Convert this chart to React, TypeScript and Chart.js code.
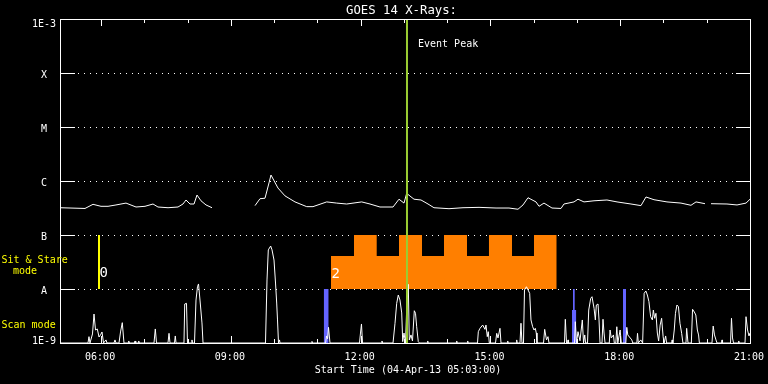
import React, { useEffect, useRef } from "react";
import { Chart, registerables } from "chart.js";

Chart.register(...registerables);

// ---- axes ----
const startHour = 5.05; // 05:03
const endHour = 21;
const xTickHours = [6, 9, 12, 15, 18, 21];
const xTickLabels = ["06:00", "09:00", "12:00", "15:00", "18:00", "21:00"];
const xMinorHours = [6, 7, 8, 9, 10, 11, 12, 13, 14, 15, 16, 17, 18, 19, 20];
const yTickValues = [1e-9, 1e-8, 1e-7, 1e-6, 1e-5, 1e-4, 1e-3];
const yTickLabels = ["1E-9", "A", "B", "C", "M", "X", "1E-3"];

// ---- GOES long channel flux (hours, W/m^2), null = data gap ----
const goesTimes = [
  5.05, 5.628, 5.813, 5.998, 6.16, 6.344, 6.576, 6.807, 7.015, 7.2, 7.315, 7.547,
  7.778, 7.893, 7.963, 8.055, 8.148, 8.217, 8.309, 8.425, 8.564, 9.0, 9.558, 9.673,
  9.789, 9.881, 9.927, 10.089, 10.251, 10.482, 10.753, 10.898, 11.215, 11.446,
  11.677, 12.024, 12.216, 12.447, 12.748, 12.886, 13.002, 13.064, 13.233, 13.395,
  13.557, 13.695, 14.042, 14.366, 14.736, 15.129, 15.429, 15.637, 15.753, 15.868,
  16.053, 16.123, 16.238, 16.423, 16.631, 16.7, 16.932, 17.024, 17.163, 17.394,
  17.694, 17.926, 18.249, 18.48, 18.596, 18.781, 19.081, 19.405, 19.636, 19.752,
  19.96, 20.03, 20.099, 20.468, 20.7, 20.908, 21.0,
];
const goesFlux = [
  3.2e-7, 3.1e-7, 3.7e-7, 3.4e-7, 3.4e-7, 3.6e-7, 3.9e-7, 3.3e-7, 3.4e-7, 3.75e-7, 3.3e-7, 3.2e-7,
  3.3e-7, 3.75e-7, 4.45e-7, 3.75e-7, 3.75e-7, 5.5e-7, 4.3e-7, 3.6e-7, 3.2e-7, null, 3.5e-7, 4.7e-7,
  4.8e-7, 9.2e-7, 1.29e-6, 7.4e-7, 5.3e-7, 4.1e-7, 3.35e-7, 3.35e-7, 4.1e-7, 3.9e-7,
  3.75e-7, 4.1e-7, 3.75e-7, 3.3e-7, 3.3e-7, 4.6e-7, 3.9e-7, 5.9e-7, 4.6e-7, 4.45e-7,
  3.75e-7, 3.2e-7, 3.07e-7, 3.2e-7, 3.25e-7, 3.16e-7, 3.16e-7, 3.0e-7, 3.6e-7, 4.9e-7,
  4.1e-7, 3.4e-7, 3.9e-7, 3.16e-7, 3.1e-7, 3.75e-7, 4.1e-7, 4.6e-7, 4.1e-7, 4.3e-7,
  4.45e-7, 4.1e-7, 3.75e-7, 3.5e-7, 5.06e-7, 4.5e-7, 4.1e-7, 3.9e-7, 3.55e-7, 4.1e-7,
  3.8e-7, null, 3.8e-7, 3.75e-7, 3.6e-7, 3.9e-7, 4.6e-7,
];

// ---- scan-mode trace (hours, value) ----
const scanTimes = [
  5.05, 5.697, 5.72, 5.743, 5.801, 5.836, 5.871, 5.912, 5.952, 5.986, 6.021, 6.056, 6.113, 6.136,
  6.298, 6.321, 6.344, 6.414, 6.449, 6.49, 6.529, 6.622, 6.638, 6.656, 6.77, 6.784, 6.8, 6.855,
  6.869, 6.885, 7.223, 7.253, 7.281, 7.546, 7.57, 7.593, 7.697, 7.715, 7.732, 7.916, 7.933, 7.974,
  7.997, 8.09, 8.101, 8.112, 8.159, 8.194, 8.228, 8.252, 8.286, 8.332, 8.356, 9.8, 9.835, 9.865,
  9.92, 9.951, 9.997, 10.032, 10.059, 10.078, 10.101, 10.124, 10.136, 10.863, 10.875, 10.887,
  11.19, 11.21, 11.235, 11.257, 11.291, 11.973, 11.996, 12.019, 12.043, 12.481, 12.493, 12.505,
  12.748, 12.794, 12.833, 12.87, 12.909, 12.949, 12.972, 13.002, 13.037, 13.071, 13.101, 13.124,
  13.163, 13.198, 13.24, 13.268, 13.295, 13.332, 13.36, 13.538, 13.55, 13.562, 14.208, 14.22,
  14.232, 14.462, 14.474, 14.486, 14.701, 14.72, 14.759, 14.821, 14.874, 14.897, 14.927, 14.95,
  14.974, 15.117, 15.145, 15.175, 15.221, 15.244, 15.387, 15.399, 15.411, 15.595, 15.607, 15.619,
  15.683, 15.706, 15.729, 15.764, 15.787, 15.833, 15.907, 15.937, 15.976, 16.007, 16.037, 16.06,
  16.076, 16.227, 16.254, 16.296, 16.33, 16.354, 16.712, 16.731, 16.759, 16.781, 16.793, 16.805,
  16.944, 16.962, 16.99, 17.024, 17.07, 17.124, 17.152, 17.18, 17.2, 17.244, 17.272, 17.318,
  17.348, 17.395, 17.425, 17.448, 17.487, 17.51, 17.533, 17.579, 17.602, 17.626, 17.649, 17.747,
  17.765, 17.793, 17.844, 17.863, 17.898, 17.921, 17.944, 17.998, 18.025, 18.129, 18.152, 18.175,
  18.268, 18.291, 18.384, 18.4, 18.419, 18.476, 18.518, 18.553, 18.592, 18.627, 18.664, 18.703,
  18.743, 18.766, 18.796, 18.826, 18.858, 18.888, 18.923, 18.957, 18.992, 19.015, 19.05, 19.073,
  19.188, 19.2, 19.212, 19.219, 19.249, 19.277, 19.311, 19.346, 19.381, 19.42, 19.45, 19.52,
  19.536, 19.567, 19.644, 19.672, 19.713, 19.748, 19.783, 19.811, 19.83, 20.121, 20.149, 20.179,
  20.214, 20.237, 20.341, 20.353, 20.365, 20.55, 20.572, 20.596, 20.619, 20.727, 20.739, 20.751,
  20.885, 20.908, 20.943, 20.977, 21.0,
];
const scanValues = [
  1e-9, 1e-9, 1.31e-9, 1e-9, 1.47e-9, 3.44e-9, 1.74e-9, 1.82e-9, 1.29e-9, 1.41e-9, 1.6e-9, 1e-9, 1.14e-9, 1e-9,
  1e-9, 1.14e-9, 1e-9, 1e-9, 1.6e-9, 2.38e-9, 1e-9, 1e-9, 1.09e-9, 1e-9, 1e-9, 1.09e-9, 1e-9, 1e-9,
  1.09e-9, 1e-9, 1e-9, 1.82e-9, 1e-9, 1e-9, 1.51e-9, 1e-9, 1e-9, 1.35e-9, 1e-9, 1e-9, 5.27e-9, 5.43e-9,
  1e-9, 1e-9, 1.14e-9, 1e-9, 1e-9, 6.25e-9, 1.1e-8, 1.24e-8, 6.25e-9, 2.35e-9, 1e-9, 1e-9, 1.47e-8, 5.3e-8,
  6.25e-8, 5.3e-8, 3.44e-8, 1.29e-8, 5.5e-9, 2.67e-9, 1e-9, 1.14e-9, 1e-9, 1e-9, 1.07e-9, 1e-9,
  1e-9, 1.35e-9, 1.2e-9, 1.95e-9, 1e-9, 1e-9, 1.53e-9, 2.25e-9, 1e-9, 1e-9, 1.09e-9, 1e-9,
  1e-9, 2.32e-9, 5.43e-9, 7.74e-9, 6.25e-9, 3.6e-9, 1.06e-9, 1.53e-9, 1e-9, 6.25e-9, 1.22e-8, 1.14e-9,
  1.41e-9, 1.09e-9, 3.96e-9, 3.55e-9, 2.0e-9, 1.06e-9, 1e-9, 1e-9, 1.09e-9, 1e-9, 1e-9, 1.09e-9,
  1e-9, 1e-9, 1.09e-9, 1e-9, 1e-9, 1.62e-9, 1.87e-9, 2.15e-9, 1.79e-9, 2.15e-9, 1.31e-9, 1.62e-9,
  1e-9, 1e-9, 1.51e-9, 1.24e-9, 1.87e-9, 1e-9, 1e-9, 1.09e-9, 1e-9, 1e-9, 1.14e-9, 1e-9,
  1e-9, 2.32e-9, 1e-9, 1e-9, 9.58e-9, 1.1e-8, 8.32e-9, 2.67e-9, 2.0e-9, 1.74e-9, 1.87e-9, 1.53e-9,
  1e-9, 1e-9, 1.79e-9, 1.14e-9, 1.31e-9, 1e-9, 1e-9, 2.75e-9, 1e-9, 1e-9, 1.14e-9, 1e-9,
  1e-9, 2.48e-9, 1e-9, 1.62e-9, 1.1e-9, 2.67e-9, 1e-9, 1.41e-9, 1e-9, 1e-9, 4.08e-9, 6.73e-9,
  7.2e-9, 4.39e-9, 2.67e-9, 5.05e-9, 5.27e-9, 2.67e-9, 1e-9, 1e-9, 2.75e-9, 1.53e-9, 1e-9, 1e-9,
  1.74e-9, 1.24e-9, 1.41e-9, 1e-9, 1e-9, 2.0e-9, 1e-9, 1.74e-9, 1e-9, 1e-9, 1.95e-9, 1.41e-9,
  1.14e-9, 1e-9, 1e-9, 1.51e-9, 1e-9, 1.14e-9, 1e-9, 8.32e-9, 9.19e-9, 7.74e-9, 5.82e-9, 3.07e-9,
  2.67e-9, 4.08e-9, 2.87e-9, 3.55e-9, 1.53e-9, 1.09e-9, 2.15e-9, 2.87e-9, 1.31e-9, 1e-9, 1.35e-9, 1e-9,
  1e-9, 1.14e-9, 1e-9, 1e-9, 1.74e-9, 3.55e-9, 5.05e-9, 4.7e-9, 2.32e-9, 1.51e-9, 1e-9, 1e-9,
  1.87e-9, 1e-9, 1e-9, 4.21e-9, 3.75e-9, 3.3e-9, 1.74e-9, 1.41e-9, 1e-9, 1e-9, 2.06e-9, 1.41e-9,
  1.14e-9, 1e-9, 1e-9, 1.14e-9, 1e-9, 1e-9, 2.87e-9, 1.24e-9, 1e-9, 1e-9, 1.09e-9, 1e-9,
  1e-9, 3.07e-9, 1.74e-9, 1.35e-9, 1.53e-9,
];

// ---- Sit & Stare block (step edges in hours, level from each edge on) ----
const sitStareEdges = [11.314, 11.846, 12.371, 12.886, 13.418, 13.926, 14.458, 14.966, 15.498, 16.007, 16.532];
const sitStareLevels = [4.08e-8, 1e-7, 4.08e-8, 1e-7, 4.08e-8, 1e-7, 4.08e-8, 1e-7, 4.08e-8, 1e-7, 1e-7];
const sitStareBase = 1e-8;
const sitStareLabel = "2";

// ---- Scan-mode bars ----
const scanBar1Times = [11.146, 11.261];
const scanBar1Levels = [1e-8, 1e-8];
const scanBar2Times = [16.885, 16.908, 16.948, 16.985];
const scanBar2Levels = [4.08e-9, 1e-8, 4.08e-9, 4.08e-9];
const scanBar3Times = [18.064, 18.134];
const scanBar3Levels = [1e-8, 1e-8];
const scanBase = 1e-9;

// ---- markers ----
const marker0Hour = 5.952;
const marker0Range = [1e-8, 1e-7];
const marker0Label = "0";
const eventPeakHour = 13.071;
const eventPeakRange = [1e-9, 1e-3];

const TITLE = "GOES 14 X-Rays:";
const XTITLE = "Start Time (04-Apr-13 05:03:00)";
const MONO = "'DejaVu Sans Mono', monospace";

const pts = (xs: number[], ys: (number | null)[]) => xs.map((x, i) => ({ x, y: ys[i] }));

const framePlugin = {
  id: "goesFrame",
  beforeDatasetsDraw(chart: any) {
    const { ctx, chartArea: a, scales } = chart;
    const xs = scales.x;
    const ys = scales.y;
    ctx.save();
    ctx.strokeStyle = "#ffffff";
    ctx.lineWidth = 1;
    for (let i = 1; i < yTickValues.length - 1; i++) {
      const py = Math.round(ys.getPixelForValue(yTickValues[i])) + 0.5;
      ctx.setLineDash([]);
      ctx.beginPath();
      ctx.moveTo(a.left, py);
      ctx.lineTo(a.left + 15, py);
      ctx.moveTo(a.right - 14, py);
      ctx.lineTo(a.right, py);
      ctx.stroke();
      ctx.setLineDash([1, 5]);
      ctx.beginPath();
      ctx.moveTo(a.left + 18, py);
      ctx.lineTo(a.right - 14, py);
      ctx.stroke();
    }
    ctx.setLineDash([]);
    ctx.beginPath();
    for (const h of xMinorHours) {
      const px = Math.round(xs.getPixelForValue(h)) + 0.5;
      const len = h % 3 === 0 ? 7 : 4;
      ctx.moveTo(px, a.top);
      ctx.lineTo(px, a.top + len);
      ctx.moveTo(px, a.bottom);
      ctx.lineTo(px, a.bottom - len);
    }
    ctx.stroke();
    ctx.restore();
  },
  afterDatasetsDraw(chart: any) {
    const { ctx, chartArea: a } = chart;
    ctx.save();
    ctx.strokeStyle = "#ffffff";
    ctx.lineWidth = 1;
    ctx.strokeRect(a.left + 0.5, a.top + 0.5, a.right - a.left, a.bottom - a.top);
    ctx.restore();
  },
  afterDraw(chart: any) {
    const { ctx, chartArea: a, scales } = chart;
    const xs = scales.x;
    const ys = scales.y;
    ctx.save();
    ctx.fillStyle = "#ffffff";
    ctx.textBaseline = "alphabetic";
    // title
    ctx.font = `12.3px ${MONO}`;
    ctx.textAlign = "center";
    ctx.fillText(TITLE, 401.5, 14);
    // y labels
    ctx.font = `10px ${MONO}`;
    ctx.textAlign = "center";
    yTickValues.forEach((v, i) => {
      const py = ys.getPixelForValue(v);
      const base = Math.min(Math.max(py + 4.7, a.top + 7.7), a.bottom + 1);
      ctx.fillText(yTickLabels[i], a.left - 16, base);
    });
    // x labels
    xTickHours.forEach((h, i) => {
      ctx.fillText(xTickLabels[i], xs.getPixelForValue(h) - 1, a.bottom + 16.5);
    });
    ctx.fillText(XTITLE, 408, a.bottom + 30);
    // event peak
    ctx.textAlign = "left";
    ctx.fillText("Event Peak", xs.getPixelForValue(eventPeakHour) + 11, a.top + 27.7);
    // mode labels
    ctx.fillStyle = "#ffff00";
    ctx.fillText("Sit & Stare", 1.5, 263.3);
    ctx.fillText("mode", 13, 274.3);
    ctx.fillText("Scan mode", 1.5, 328.3);
    // block numbers
    ctx.fillStyle = "#ffffff";
    ctx.font = `14px ${MONO}`;
    const yA = ys.getPixelForValue(sitStareBase);
    ctx.fillText(marker0Label, xs.getPixelForValue(marker0Hour) + 0.5, yA - 11.7);
    ctx.fillText(sitStareLabel, xs.getPixelForValue(sitStareEdges[0]) + 0.5, yA - 11);
    ctx.restore();
  },
};

export default function App() {
  const ref = useRef<HTMLCanvasElement | null>(null);
  useEffect(() => {
    const canvas = ref.current;
    if (!canvas) return;
    const common = { pointRadius: 0, pointHoverRadius: 0, tension: 0, spanGaps: false };
    const chart = new Chart(canvas, {
      type: "line",
      data: {
        datasets: [
          {
            ...common,
            label: "scan bar 1",
            data: pts(scanBar1Times, scanBar1Levels),
            borderWidth: 0,
            borderColor: "rgba(0,0,0,0)",
            backgroundColor: "#6464ff",
            fill: { value: scanBase },
            order: 6,
          },
          {
            ...common,
            label: "scan bar 2",
            data: pts(scanBar2Times, scanBar2Levels),
            stepped: true,
            borderWidth: 0,
            borderColor: "rgba(0,0,0,0)",
            backgroundColor: "#6464ff",
            fill: { value: scanBase },
            order: 6,
          },
          {
            ...common,
            label: "scan bar 3",
            data: pts(scanBar3Times, scanBar3Levels),
            borderWidth: 0,
            borderColor: "rgba(0,0,0,0)",
            backgroundColor: "#6464ff",
            fill: { value: scanBase },
            order: 6,
          },
          {
            ...common,
            label: "sit & stare",
            data: pts(sitStareEdges, sitStareLevels),
            stepped: true,
            borderWidth: 0,
            borderColor: "rgba(0,0,0,0)",
            backgroundColor: "#ff7f00",
            fill: { value: sitStareBase },
            order: 5,
          },
          {
            ...common,
            label: "scan trace",
            data: pts(scanTimes, scanValues),
            borderColor: "#ffffff",
            borderWidth: 1,
            fill: false,
            order: 4,
          },
          {
            ...common,
            label: "GOES",
            data: pts(goesTimes, goesFlux),
            borderColor: "#ffffff",
            borderWidth: 1,
            fill: false,
            order: 3,
          },
          {
            ...common,
            label: "marker 0",
            data: pts([marker0Hour, marker0Hour], marker0Range),
            borderColor: "#ffff00",
            borderWidth: 2,
            fill: false,
            order: 2,
          },
          {
            ...common,
            label: "event peak",
            data: pts([eventPeakHour, eventPeakHour], eventPeakRange),
            borderColor: "rgb(154,205,50)",
            borderWidth: 2,
            fill: false,
            order: 1,
          },
        ],
      },
      options: {
        responsive: false,
        animation: false,
        devicePixelRatio: 1,
        events: [],
        layout: { padding: { left: 60, right: 18, top: 19, bottom: 41 } },
        plugins: { legend: { display: false }, tooltip: { enabled: false }, title: { display: false } },
        scales: {
          x: { type: "linear", min: startHour, max: endHour, display: false },
          y: { type: "logarithmic", min: yTickValues[0], max: yTickValues[yTickValues.length - 1], display: false },
        },
      },
      plugins: [framePlugin],
    } as any);
    return () => chart.destroy();
  }, []);
  return (
    <div style={{ position: "fixed", left: 0, top: 0, width: 768, height: 384, background: "#000" }}>
      <canvas ref={ref} width={768} height={384} style={{ display: "block" }} />
    </div>
  );
}
